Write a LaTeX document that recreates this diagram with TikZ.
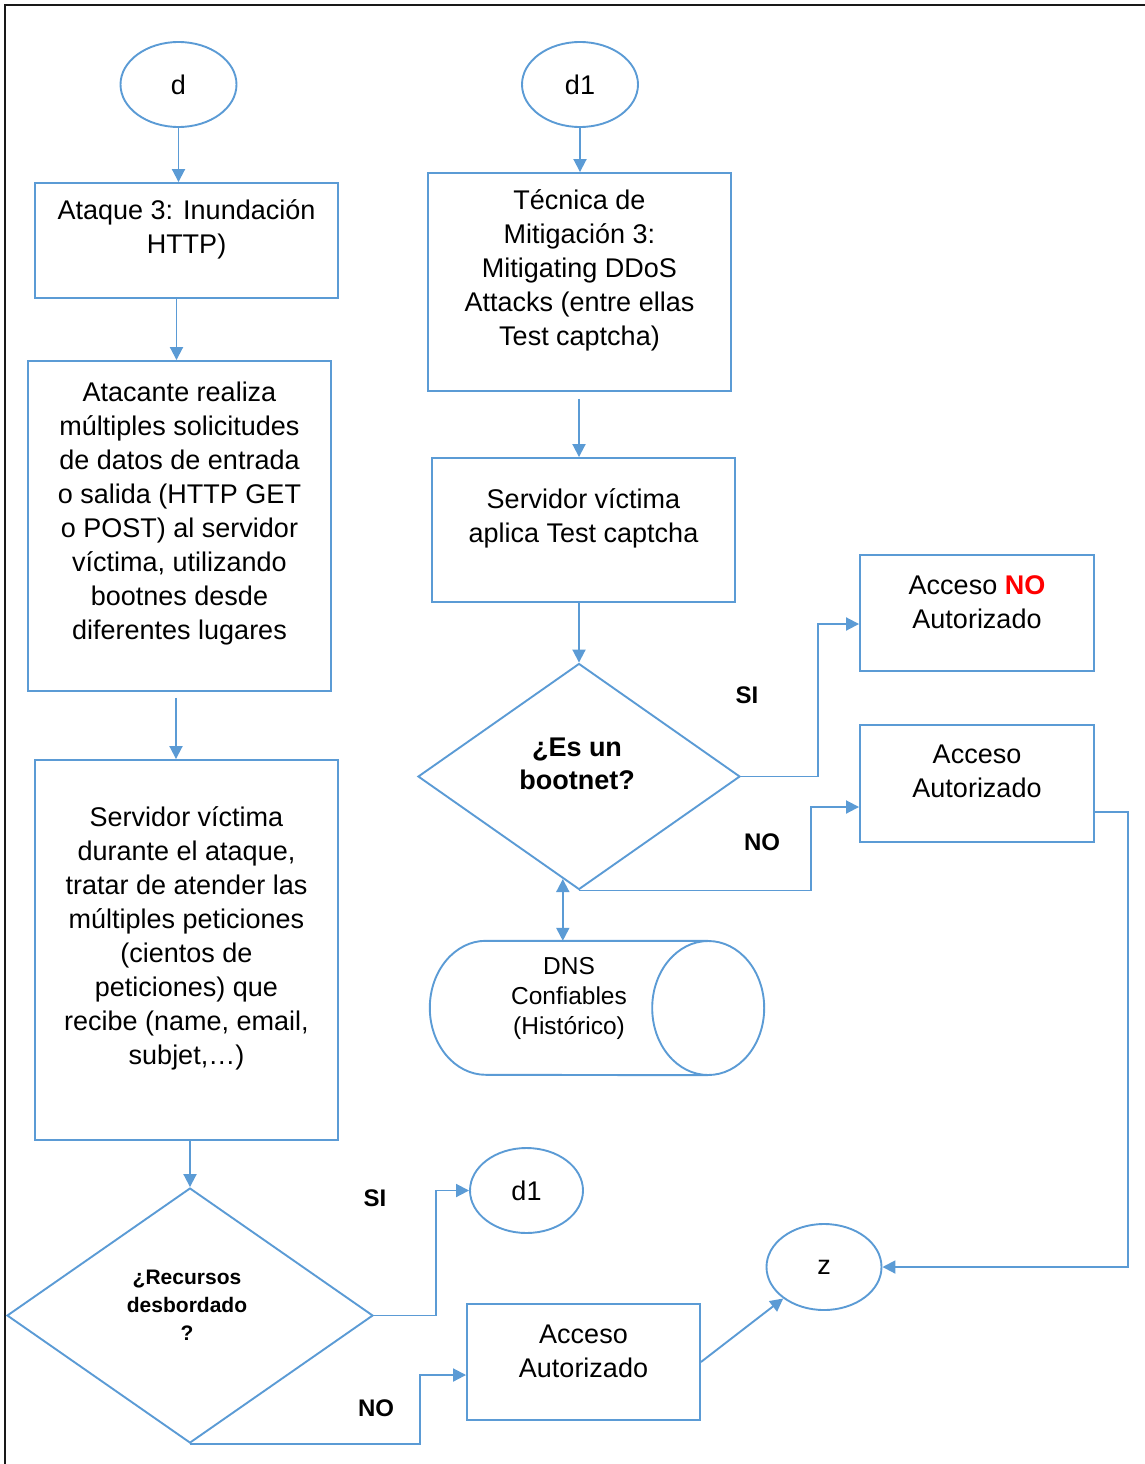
\documentclass[tikz,border=0pt]{standalone}
\usepackage{fontspec}
\setmainfont{Liberation Sans}
\usetikzlibrary{arrows.meta,shapes.geometric,calc}
\definecolor{flowblue}{RGB}{91,155,213}
\definecolor{alertred}{RGB}{255,0,0}
\begin{document}
\begin{tikzpicture}[x=1pt,y=-1pt,
  line/.style={draw=flowblue,line width=1.9pt},
  arr/.style={line,-{Triangle[length=13pt,width=13pt]}},
  darr/.style={line,{Triangle[length=13pt,width=13pt]}-{Triangle[length=13pt,width=13pt]}},
  box/.style={line,rectangle,inner sep=0pt},
  term/.style={line,ellipse,inner sep=0pt,font=\fontsize{27}{32}\selectfont},
  decision/.style={line,diamond,inner sep=0pt},
  txt/.style={align=center,inner sep=0pt,font=\fontsize{27}{34}\selectfont},
  lbl/.style={inner sep=0pt,font=\bfseries\fontsize{24}{28}\selectfont},
]
\useasboundingbox (0,0) rectangle (1145,1464);
% page frame
\draw[line width=2.8pt,black!90] (5,1470) -- (5,5) -- (1150,5);

% left column
\node[term,minimum width=116pt,minimum height=85pt] (d) at (178.5,84.5) {d};
\node[box,minimum width=303pt,minimum height=115pt] (ataque) at (186.5,240.5) {};
\node[txt] (ataquetxt) at ([yshift=11pt]ataque.center) {Ataque 3: Inundación\\HTTP)};
\node[box,minimum width=303pt,minimum height=330pt] (atacante) at (179.5,526) {};
\node[txt] (atacantetxt) at ([yshift=12pt]atacante.center) {Atacante realiza\\múltiples solicitudes\\de datos de entrada\\o salida (HTTP GET\\o POST) al servidor\\víctima, utilizando\\bootnes desde\\diferentes lugares};
\node[box,minimum width=303pt,minimum height=380pt] (servidor) at (186.5,950) {};
\node[txt] (servidortxt) at ([yshift=12pt]servidor.center) {Servidor víctima\\durante el ataque,\\tratar de atender las\\múltiples peticiones\\(cientos de\\peticiones) que\\recibe (name, email,\\subjet,…)};
\node[decision,minimum width=366pt,minimum height=255pt] (br) at (190,1315.5) {};
\node[txt,font=\bfseries\fontsize{21}{28}\selectfont] (brtxt) at (187,1305) {¿Recursos\\desbordado\\?};
\node[term,minimum width=113pt,minimum height=85pt] (d1b) at (526.5,1190.5) {d1};
\node[box,minimum width=233pt,minimum height=116pt] (accB) at (583.5,1362) {};
\node[txt] (accBtxt) at ([yshift=11pt]accB.center) {Acceso\\Autorizado};
\node[term,minimum width=115pt,minimum height=86pt] (z) at (824,1267) {z};

% right column
\node[term,minimum width=116pt,minimum height=85pt] (d1) at (580,84.5) {d1};
\node[box,minimum width=303pt,minimum height=218pt] (tecnica) at (579.5,282) {};
\node[txt] (tecnicatxt) at ([yshift=12pt]tecnica.center) {Técnica de\\Mitigación 3:\\Mitigating DDoS\\Attacks (entre ellas\\Test captcha)};
\node[box,minimum width=303pt,minimum height=144pt] (aplica) at (583.5,530) {};
\node[txt] (aplicatxt) at ([yshift=12pt]aplica.center) {Servidor víctima\\aplica Test captcha};
\node[decision,minimum width=322pt,minimum height=226pt] (bd) at (579,776.5) {};
\node[txt,font=\bfseries\fontsize{27}{33}\selectfont] (bdtxt) at (577,764) {¿Es un\\bootnet?};
\node[box,minimum width=234pt,minimum height=116pt] (accNO) at (977,613) {};
\node[txt] (accNOtxt) at ([yshift=11pt]accNO.center) {Acceso \textcolor{alertred}{\textbf{NO}}\\Autorizado};
\node[box,minimum width=234pt,minimum height=117pt] (accR) at (977,783.5) {};
\node[txt] (accRtxt) at ([yshift=12pt]accR.center) {Acceso\\Autorizado};

% DNS store drawn as a horizontal cylinder
\node[inner sep=0pt,minimum width=334pt,minimum height=134pt] (dns) at (597,1008) {};
\draw[line] ([xshift=-56pt]dns.north east) -- ([xshift=56pt]dns.north west)
  arc[start angle=90,end angle=270,x radius=56pt,y radius=67pt]
  -- ([xshift=-56pt]dns.south east);
\draw[line] ([xshift=-56pt]dns.east) ellipse[x radius=56pt,y radius=67pt];
\node[txt,font=\fontsize{24.5}{30}\selectfont] (dnstxt) at (569,998) {DNS\\Confiables\\(Histórico)};

% branch labels
\node[lbl] (si1) at (747,695) {SI};
\node[lbl] (no1) at (762,842) {NO};
\node[lbl] (si2) at (375,1198) {SI};
\node[lbl] (no2) at (376,1408) {NO};

% connectors, left column
\draw[arr] (d) -- (d |- ataque.north);
\draw[arr] ([xshift=-10pt]ataque.south) -- ([xshift=-10pt]ataque.south |- atacante.north);
\draw[arr] ([xshift=-3.5pt,yshift=-6pt]atacante.south) -- ([xshift=-3.5pt]atacante.south |- servidor.north);
\draw[arr] (servidor.south -| br.north) -- (br.north);
\draw[arr] (br.east) -- ++(62,0) |- (d1b.west);
\draw[arr] (br.south) -- ++(230,0) |- ([yshift=-13pt]accB.west);
\draw[arr] (accB.east) -- (z);
\draw[arr] ([yshift=-28.5pt]accR.east) -- ++(33,0) |- (z.east);

% connectors, right column
\draw[arr] (d1) -- (d1 |- tecnica.north);
\draw[arr] ([yshift=-7pt]tecnica.south -| bd.north) -- (bd.north |- aplica.north);
\draw[arr] (bd.north |- aplica.south) -- (bd.north);
\draw[arr] (bd.east) -- ++(77,0) |- ([yshift=-11pt]accNO.west);
\draw[arr] (bd.south) -- ++(232,0) |- ([yshift=-23.5pt]accR.west);
\coordinate (bdedge) at ($(bd.west)!0.9!(bd.south)$);
\draw[darr] (bdedge) -- (bdedge |- dns.north);
\end{tikzpicture}
\end{document}
